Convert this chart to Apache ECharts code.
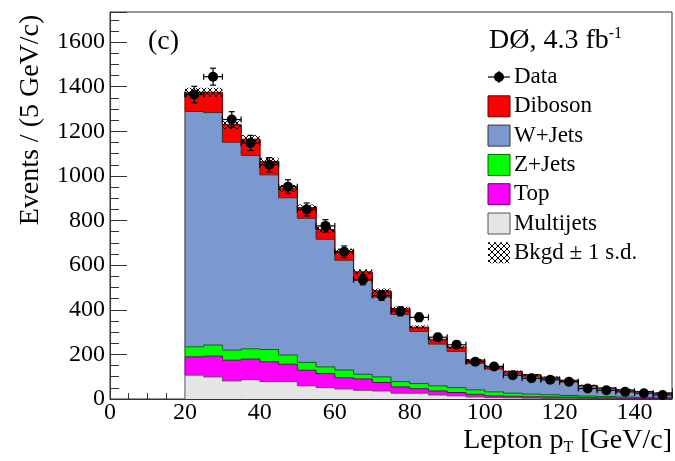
<!DOCTYPE html>
<html><head><meta charset="utf-8">
<script src="https://cdn.jsdelivr.net/npm/echarts@6/dist/echarts.min.js"></script>
<style>html,body{margin:0;padding:0;background:#fff}#c{width:675px;height:461px}</style>
</head><body><div id="c"></div>
<script>
// ---- data (GeV/c bins of 5) ----
const binLow = [20,25,30,35,40,45,50,55,60,65,70,75,80,85,90,95,100,105,110,115,120,125,130,135,140,145];
const binWidth = 5;
const multijets = [107,99,81,87,78,78,59,51,45,39,36,26,26,18,14,9,6,5,4,3,3,2,2,2,1,1];
const ttbar     = [82,93,93,92,89,78,70,63,50,51,38,28,20,18,15,12,8,7,6,6,5,4,3,2,2,2];
const zjets     = [45,50,45,46,55,41,35,30,35,21,25,24,23,23,22,20,18,14,12,10,8,7,6,5,4,3];
const wjets     = [1055,1042,932,867,783,705,646,572,492,421,358,301,234,187,162,118,102,89,80,73,64,45,37,30,25,19];
const diboson   = [86,91,79,73,60,43,48,44,40,38,28,26,19,22,19,16,12,9,7,6,4,3,2,2,2,2];
const bkgdErr   = [20,20,19,18,17,15,14,13,12,11,10,9,8,7,6,5,5,4,4,3,3,3,2,2,2,2];
const dataVals  = [1365,1445,1253,1148,1050,952,850,776,660,535,464,393,366,277,243,167,146,107,93,86,77,47,39,32,26,18];
const dataErr   = [37,38,35,34,32,31,29,28,26,23,22,20,19,17,16,13,12,10,10,9,9,7,6,6,5,4];
const yTicks = [0,200,400,600,800,1000,1200,1400,1600];
const xTicks = [0,20,40,60,80,100,120,140];

const FONT = "'Liberation Serif','DejaVu Serif',serif";

const components = [
  {name:'Multijets', vals:multijets, fill:'#e5e5e5', stroke:'#555555'},
  {name:'Top',       vals:ttbar,     fill:'#ff00ff', stroke:'#660066'},
  {name:'Z+Jets',    vals:zjets,     fill:'#00ff00', stroke:'#006600'},
  {name:'W+Jets',    vals:wjets,     fill:'#7b98cf', stroke:'#333333'},
  {name:'Diboson',   vals:diboson,   fill:'#ff0000', stroke:'#660000'}
];

function makeHatch(){
  const c = document.createElement('canvas'); c.width = 6; c.height = 6;
  const g = c.getContext('2d');
  g.strokeStyle = '#000'; g.lineWidth = 1;
  g.beginPath(); g.moveTo(0,0); g.lineTo(6,6); g.moveTo(6,0); g.lineTo(0,6); g.stroke();
  return c;
}
const hatch = {image: makeHatch(), repeat: 'repeat'};

const base = binLow.map(() => 0);
const series = [];
components.forEach((comp, ci) => {
  const rows = binLow.map((x, i) => {
    const b = base[i], t = base[i] + comp.vals[i];
    return [x, x + binWidth, b, t, 0];
  });
  rows.forEach((r, i) => { r[4] = i === 0 ? r[2] : rows[i-1][3]; });
  rows.forEach((r, i) => { base[i] = r[3]; });
  series.push({
    type:'custom', name:comp.name, z:2, clip:true,
    data: rows,
    renderItem: (params, api) => {
      const x0 = api.value(0), x1 = api.value(1), b = api.value(2), t = api.value(3), pt = api.value(4);
      const pb = api.coord([x0, b]), pt1 = api.coord([x1, t]), pp = api.coord([x0, pt]);
      return {type:'group', children:[
        {type:'rect', z2:0, shape:{x:pb[0], y:pt1[1], width:pt1[0]-pb[0]+0.6, height:pb[1]-pt1[1]}, style:{fill:comp.fill}},
        {type:'polyline', z2:10, shape:{points:[[pb[0], pp[1]],[pb[0], pt1[1]],[pt1[0], pt1[1]]]}, style:{stroke:comp.stroke, lineWidth:1, fill:null}}
      ]};
    }
  });
});
const totals = base.slice();

series.push({
  type:'custom', name:'Bkgd ± 1 s.d.', z:4, clip:true,
  data: binLow.map((x, i) => [x, x + binWidth, totals[i] - bkgdErr[i], totals[i] + bkgdErr[i]]),
  renderItem: (params, api) => {
    const p0 = api.coord([api.value(0), api.value(2)]), p1 = api.coord([api.value(1), api.value(3)]);
    return {type:'rect', shape:{x:p0[0], y:p1[1], width:p1[0]-p0[0], height:p0[1]-p1[1]}, style:{fill:hatch}};
  }
});

series.push({
  type:'custom', name:'Data', z:6, clip:false,
  data: binLow.map((x, i) => [x + binWidth/2, dataVals[i], dataErr[i]]),
  renderItem: (params, api) => {
    const x = api.value(0), y = api.value(1), e = api.value(2);
    const c = api.coord([x, y]), up = api.coord([x, y+e]), dn = api.coord([x, y-e]);
    const l = api.coord([x - binWidth/2, y]), r = api.coord([x + binWidth/2, y]);
    const st = {stroke:'#000', lineWidth:1.2};
    return {type:'group', children:[
      {type:'line', shape:{x1:c[0], y1:up[1], x2:c[0], y2:dn[1]}, style:st},
      {type:'line', shape:{x1:c[0]-3, y1:up[1], x2:c[0]+3, y2:up[1]}, style:st},
      {type:'line', shape:{x1:c[0]-3, y1:dn[1], x2:c[0]+3, y2:dn[1]}, style:st},
      {type:'line', shape:{x1:l[0], y1:c[1], x2:r[0], y2:c[1]}, style:st},
      {type:'line', shape:{x1:l[0], y1:c[1]-3, x2:l[0], y2:c[1]+3}, style:st},
      {type:'line', shape:{x1:r[0], y1:c[1]-3, x2:r[0], y2:c[1]+3}, style:st},
      {type:'circle', shape:{cx:c[0], cy:c[1], r:5}, style:{fill:'#000'}}
    ]};
  }
});

// legend (graphic)
const legItems = [
  {label:'Diboson', fill:'#ff0000', stroke:'#660000'},
  {label:'W+Jets', fill:'#7b98cf', stroke:'#333333'},
  {label:'Z+Jets', fill:'#00ff00', stroke:'#006600'},
  {label:'Top', fill:'#ff00ff', stroke:'#660066'},
  {label:'Multijets', fill:'#e5e5e5', stroke:'#555555'},
  {label:'Bkgd ± 1 s.d.', fill:hatch, stroke:null}
];
const graphics = [];
const LX = 488, LY0 = 77, DY = 29.3;
graphics.push({type:'line', shape:{x1:LX, y1:LY0, x2:LX+22, y2:LY0}, style:{stroke:'#000', lineWidth:1.2}});
graphics.push({type:'line', shape:{x1:LX+11, y1:LY0-6, x2:LX+11, y2:LY0+6}, style:{stroke:'#000', lineWidth:1.2}});
graphics.push({type:'circle', shape:{cx:LX+11, cy:LY0, r:5}, style:{fill:'#000'}});
graphics.push({type:'text', x:LX+26, y:LY0, style:{text:'Data', font:'23px '+FONT, fill:'#000', verticalAlign:'middle'}});
legItems.forEach((it, k) => {
  const cy = LY0 + DY*(k+1);
  graphics.push({type:'rect', shape:{x:LX, y:cy-10.5, width:22, height:21}, style:{fill:it.fill, stroke:it.stroke, lineWidth:1}});
  graphics.push({type:'text', x:LX+26, y:cy, style:{text:it.label, font:'23px '+FONT, fill:'#000', verticalAlign:'middle'}});
});
graphics.push({type:'text', x:148, y:42, style:{text:'(c)', font:'28px '+FONT, fill:'#000', verticalAlign:'middle'}});
graphics.push({type:'text', x:489, y:41, style:{
  text:'{a|DØ, 4.3 fb}{s|-1}', verticalAlign:'middle',
  rich:{a:{fontSize:28, fontFamily:FONT, fill:'#000', lineHeight:30}, s:{fontSize:16, fontFamily:FONT, fill:'#000', lineHeight:12, verticalAlign:'top'}}
}});
graphics.push({type:'text', x:672, y:441, style:{
  text:'{a|Lepton p}{b|T}{a| [GeV/c]}', align:'right', verticalAlign:'middle',
  rich:{a:{fontSize:28, fontFamily:FONT, fill:'#000', lineHeight:30}, b:{fontSize:16, fontFamily:FONT, fill:'#000', lineHeight:6, verticalAlign:'bottom'}}
}});
graphics.push({type:'text', x:31, y:120, rotation:Math.PI/2, style:{
  text:'Events / (5 GeV/c)', font:'28px '+FONT, fill:'#000', align:'center', verticalAlign:'middle'
}});

const axisCommon = {splitLine:{show:false}, axisLine:{lineStyle:{color:'#333', width:1}}};
const option = {
  animation:false,
  backgroundColor:'#fff',
  grid:{left:110, right:3, top:12, bottom:62, show:true, borderColor:'#333', borderWidth:1, backgroundColor:'transparent'},
  xAxis:[
    Object.assign({type:'value', min:0, max:150, interval:20, position:'bottom',
      axisTick:{inside:true, length:11, lineStyle:{color:'#333'}},
      axisLabel:{fontSize:24, fontFamily:FONT, color:'#000', margin:2,
        formatter: v => xTicks.indexOf(v) >= 0 ? String(v) : ''}}, axisCommon),
    {type:'value', min:0, max:150, interval:5, position:'bottom', splitLine:{show:false},
      axisLine:{show:false}, axisTick:{inside:true, length:6, lineStyle:{color:'#333'}}, axisLabel:{show:false}}
  ],
  yAxis:[
    Object.assign({type:'value', min:0, max:1735, interval:200, position:'left',
      axisTick:{inside:true, length:17, lineStyle:{color:'#333'}},
      axisLabel:{fontSize:24, fontFamily:FONT, color:'#000', margin:5,
        formatter: v => yTicks.indexOf(v) >= 0 ? String(v) : ''}}, axisCommon),
    {type:'value', min:0, max:1735, interval:50, position:'left', splitLine:{show:false},
      axisLine:{show:false}, axisTick:{inside:true, length:9, lineStyle:{color:'#333'}}, axisLabel:{show:false}}
  ],
  series: series,
  graphic: graphics
};
const chart = echarts.init(document.getElementById('c'), null, {renderer:'canvas'});
chart.setOption(option);
</script></body></html>
